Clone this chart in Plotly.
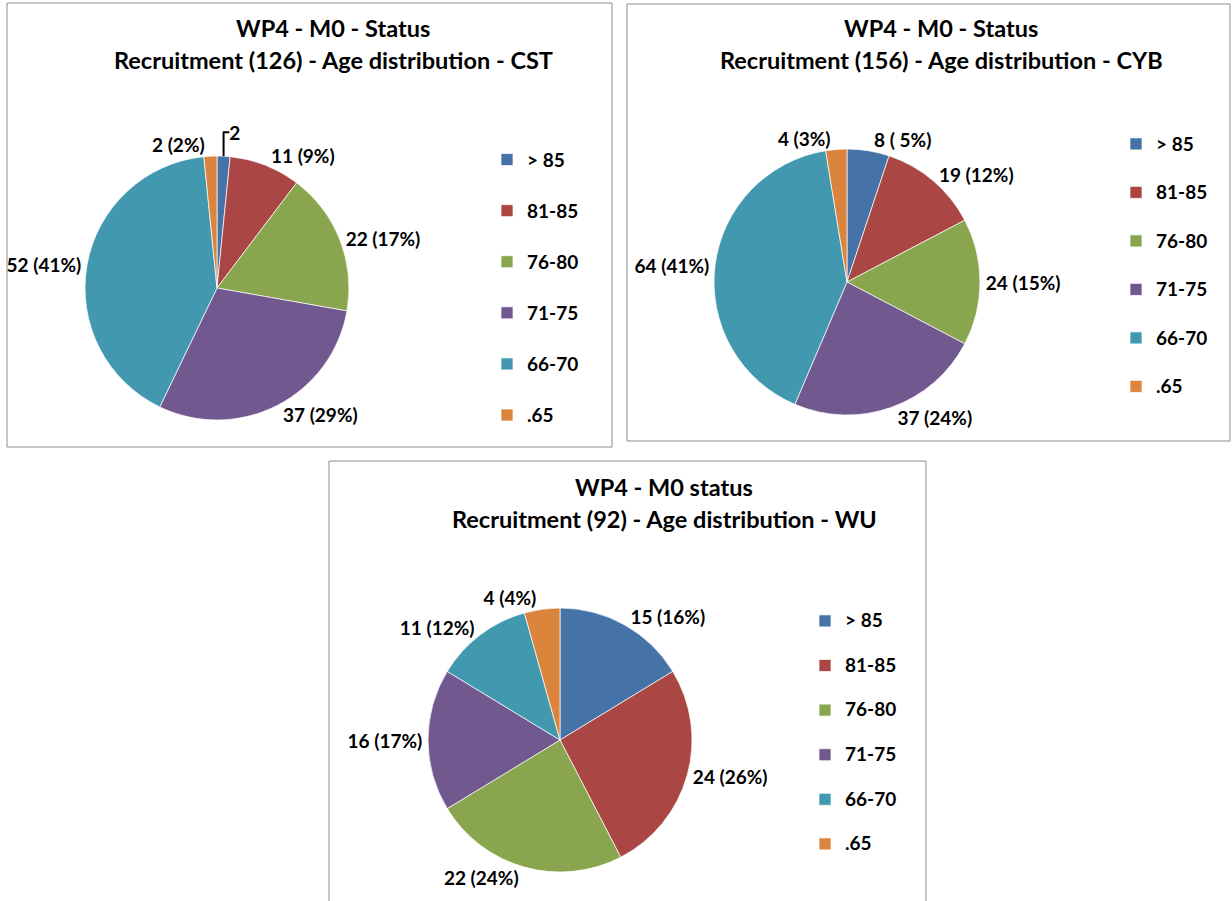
import plotly.graph_objects as go

W, H = 1232, 901

# ---------------- data ----------------
categories = ['> 85', '81-85', '76-80', '71-75', '66-70', '.65']
colors = ['#4572A7', '#AA4643', '#89A54E', '#71588F', '#4198AF', '#DB843D']

cst_values = [2, 11, 22, 37, 52, 2]
cyb_values = [8, 19, 24, 37, 64, 4]
wu_values = [15, 24, 22, 16, 11, 4]

cst_text = ['2', '11 (9%)', '22 (17%)', '37 (29%)', '52 (41%)', '2 (2%)']
cyb_text = ['8 ( 5%)', '19 (12%)', '24 (15%)', '37 (24%)', '64 (41%)', '4 (3%)']
wu_text = ['15 (16%)', '24 (26%)', '22 (24%)', '16 (17%)', '11 (12%)', '4 (4%)']

title_line1 = ['WP4 - M0 - Status', 'WP4 - M0 - Status', 'WP4 - M0 status']
title_line2 = ['Recruitment (126) - Age distribution - CST',
               'Recruitment (156) - Age distribution - CYB',
               'Recruitment (92) - Age distribution - WU']

FONT = 'Lato, Calibri, Carlito, Arial, sans-serif'


def px(x):
    return x / W


def py(y):
    return 1 - y / H


# layout geometry (pixels)
pies = [
    dict(values=cst_values, text=cst_text, cx=217, cy=288, r=132, legend='legend'),
    dict(values=cyb_values, text=cyb_text, cx=847, cy=282, r=133, legend='legend2'),
    dict(values=wu_values, text=wu_text, cx=560, cy=740, r=132, legend='legend3'),
]
boxes = [(7, 3, 612, 447), (627, 4, 1230, 441), (329, 461, 926, 910)]
title_pos = [(333, 28, 60), (941, 28, 60), (664, 487, 519)]
# legend: left, top (px) and the font size that sets the row pitch
legend_pos = [(487, 141, 18.5), (1116, 126, 17.5), (805, 604, 16)]
# equivalent colour spellings keep each chart's legend entries distinct
legend_text_colors = ['#000000', '#000', 'black']

fig = go.Figure()
for k, p in enumerate(pies):
    labels = ['<span style="font-size:19px;color:%s">%s</span><br>\u00a0' % (legend_text_colors[k], c)
              for c in categories]
    fig.add_trace(go.Pie(
        labels=labels,
        values=p['values'],
        text=p['text'],
        textinfo='text',
        textposition='outside',
        textfont=dict(family=FONT, size=19, color='#000000', weight='bold'),
        marker=dict(colors=colors, line=dict(color='rgba(255,255,255,0.7)', width=1)),
        sort=False,
        direction='clockwise',
        rotation=0,
        hoverinfo='skip',
        domain=dict(x=[px(p['cx'] - p['r']), px(p['cx'] + p['r'])],
                    y=[py(p['cy'] + p['r']), py(p['cy'] - p['r'])]),
        legend=p['legend'],
        showlegend=True,
    ))

shapes = []
for (x0, y0, x1, y1) in boxes:
    shapes.append(dict(type='rect', xref='paper', yref='paper',
                       x0=px(x0), x1=px(x1), y0=py(y1), y1=py(y0),
                       line=dict(color='#8c8c8c', width=1), fillcolor='rgba(0,0,0,0)',
                       layer='below'))

annotations = []
for i, (cx, y1, y2) in enumerate(title_pos):
    annotations.append(dict(text='<b>%s</b>' % title_line1[i], x=px(cx), y=py(y1),
                            xref='paper', yref='paper', showarrow=False,
                            xanchor='center', yanchor='middle',
                            font=dict(family=FONT, size=23.5, color='#000000')))
    annotations.append(dict(text='<b>%s</b>' % title_line2[i], x=px(cx), y=py(y2),
                            xref='paper', yref='paper', showarrow=False,
                            xanchor='center', yanchor='middle',
                            font=dict(family=FONT, size=23.5, color='#000000')))

legend_common = dict(xanchor='left', yanchor='top', bgcolor='rgba(0,0,0,0)',
                     borderwidth=0, valign='top', tracegroupgap=0, itemwidth=30)
legends = {}
for name, (lx, ly, fs) in zip(['legend', 'legend2', 'legend3'], legend_pos):
    legends[name] = dict(x=px(lx), y=py(ly),
                         font=dict(family=FONT, size=fs, color='#000000', weight='bold'),
                         **legend_common)

fig.update_layout(
    width=W, height=H,
    margin=dict(l=0, r=0, t=0, b=0),
    paper_bgcolor='white',
    plot_bgcolor='white',
    font=dict(family=FONT, color='#000000'),
    shapes=shapes,
    annotations=annotations,
    **legends,
)

fig.write_html('out.html')
